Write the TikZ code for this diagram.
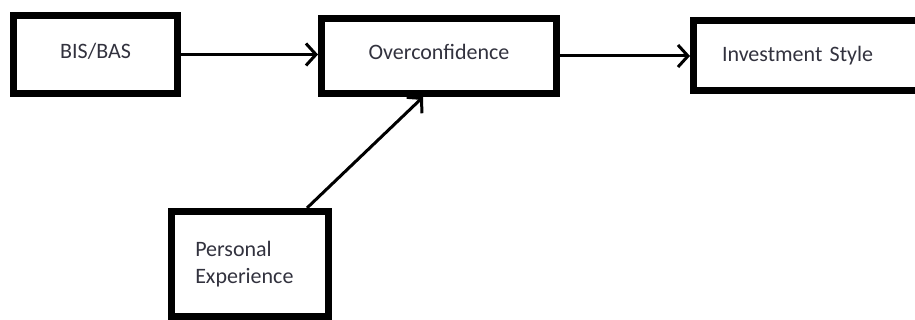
\documentclass[tikz,border=0pt]{standalone}
\usepackage{fontspec}
\setmainfont{Carlito}
\usetikzlibrary{arrows.meta}
\definecolor{txtgray}{RGB}{50,50,62}
\begin{document}
\begin{tikzpicture}[x=1pt,y=-1pt,
    box/.style={draw, line width=7pt, text=txtgray, font=\fontsize{22}{26.4}\selectfont},
    link/.style={line width=3pt, -{Straight Barb[length=10pt,width=22pt]}}]
    \useasboundingbox (0,0) rectangle (915,320);
    \clip (0,0) rectangle (915,320);
    \node[box, minimum width=164pt, minimum height=78pt, text height=16pt, text depth=8pt] (bis) at (95.5,54.5) {BIS/BAS};
    \node[box, minimum width=235pt, minimum height=75pt, text height=16pt, text depth=8pt] (over) at (439,56) {Overconfidence};
    \node[box, minimum width=240pt, minimum height=70pt, text width=183pt, inner xsep=28.5pt, align=left] (invest) at (813.5,56) {Investment Style};
    \node[box, minimum width=157.5pt, minimum height=105pt, text width=109.5pt, inner xsep=24pt, align=left] (pers) at (250,264) {Personal\\Experience};
    \draw[link] (bis.east) -- (bis.east -| over.west);
    \draw[link] (over.east) -- (over.east -| invest.west);
    \draw[link] ([xshift=57pt]pers.north) -- ([xshift=-16pt]over.south);
\end{tikzpicture}
\end{document}
